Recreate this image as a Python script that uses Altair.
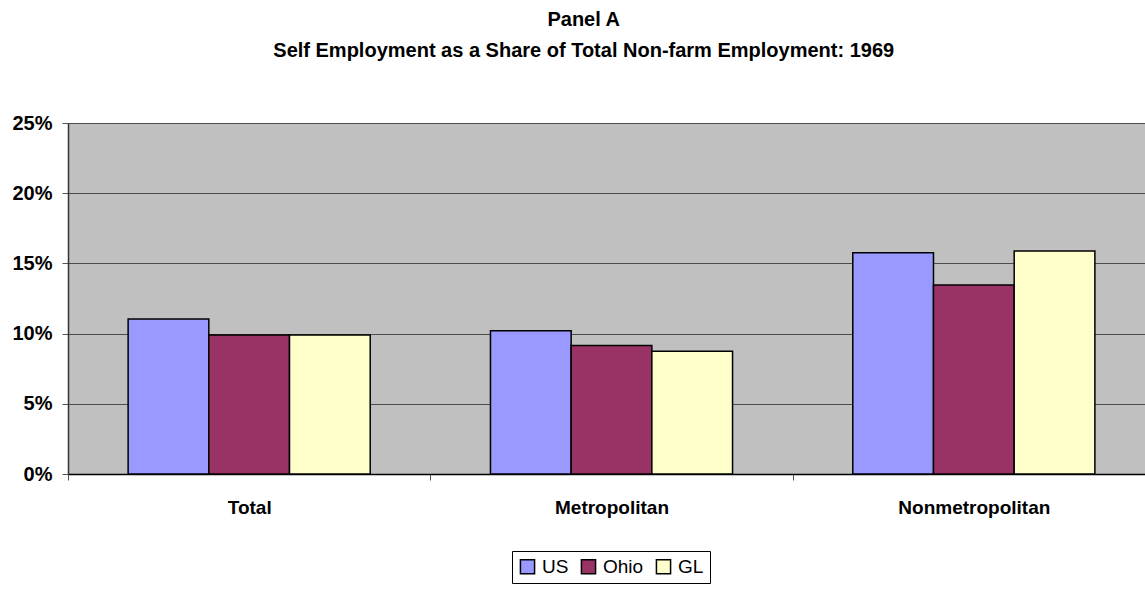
import altair as alt
import pandas as pd

categories = ["Total", "Metropolitan", "Nonmetropolitan"]
series = ["US", "Ohio", "GL"]
us = [0.1104, 0.1020, 0.1576]
ohio = [0.0990, 0.0915, 0.1346]
gl = [0.0990, 0.0875, 0.1588]
colors = ["#9999FF", "#993366", "#FFFFCC"]
y_ticks = [0, 0.05, 0.10, 0.15, 0.20, 0.25]

rows = []
for i, c in enumerate(categories):
    for s, vals in zip(series, [us, ohio, gl]):
        rows.append({"region": c, "series": s, "value": vals[i]})
df = pd.DataFrame(rows)

FONT = "Liberation Sans"

chart = alt.Chart(df).mark_bar(stroke="black", strokeWidth=1.5).encode(
    x=alt.X("region:N", sort=categories, title=None,
            scale=alt.Scale(paddingInner=0, paddingOuter=0, range=[0, 1087]),
            axis=alt.Axis(labelAngle=0, tickBand="extent", labelFont=FONT, labelFontSize=19,
                          labelFontWeight="bold", labelColor="black", tickSize=6,
                          tickColor="#555555", domainColor="black", domainWidth=1.5,
                          labelPadding=18, grid=False)),
    xOffset=alt.XOffset("series:N", sort=series,
                        scale=alt.Scale(paddingInner=0, paddingOuter=0.745)),
    y=alt.Y("value:Q", title=None,
            scale=alt.Scale(domain=[0, 0.25], nice=False),
            axis=alt.Axis(values=y_ticks, format=".0%", labelFont=FONT, labelFontSize=20,
                          labelFontWeight="bold", labelColor="black", tickSize=6,
                          tickColor="#555555", domainColor="#333333", domainWidth=1.5,
                          labelPadding=10, grid=True, gridColor="#4d4d4d", gridWidth=1.2)),
    color=alt.Color("series:N", sort=series,
                    scale=alt.Scale(domain=series, range=colors),
                    legend=alt.Legend(title=None, orient="none", legendX=444, legendY=428,
                                      direction="horizontal", symbolType="square",
                                      symbolSize=200, symbolStrokeColor="black",
                                      symbolStrokeWidth=1.5, symbolOpacity=1,
                                      labelFont=FONT, labelFontSize=19, labelColor="black",
                                      labelOffset=5, columnPadding=9,
                                      strokeColor="black", fillColor="white", padding=6)),
).properties(
    width=1077,
    height=351,
    title=alt.TitleParams(
        text=["Panel A", "Self Employment as a Share of Total Non-farm Employment: 1969"],
        font=FONT, fontSize=20, fontWeight="bold", color="black",
        anchor="middle", frame="bounds", lineHeight=31, offset=52),
    autosize=alt.AutoSizeParams(type="none"),
    padding={"left": 68, "top": 123, "right": 0, "bottom": 118},
).configure_view(fill="#C0C0C0", stroke=None)

chart.save("out.html", embed_options={"renderer": "svg", "actions": False})
